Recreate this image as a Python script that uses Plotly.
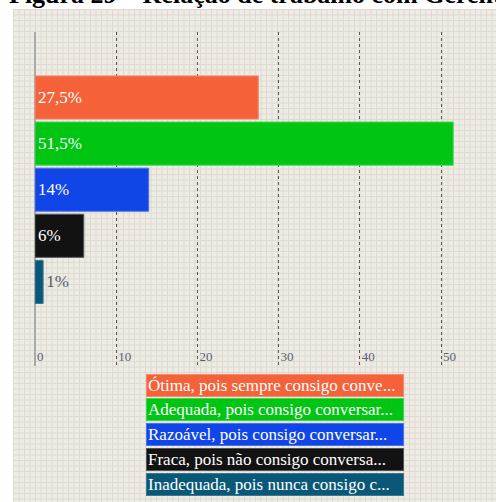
import plotly.graph_objects as go

# --- data -------------------------------------------------------------
categorias = [
    "Ótima, pois sempre consigo conve...",
    "Adequada, pois consigo conversar...",
    "Razoável, pois consigo conversar...",
    "Fraca, pois não consigo conversa...",
    "Inadequada, pois nunca consigo c...",
]
percentuais = [27.5, 51.5, 14, 6, 1]
rotulos = ["27,5%", "51,5%", "14%", "6%", "1%"]
ticks_x = [0, 10, 20, 30, 40, 50]
titulo = "Figura 29 – Relação de trabalho com Gerentes"

# --- styling ----------------------------------------------------------
cores = ["#F5623A", "#00C513", "#1045E8", "#121212", "#0A5878"]
bordas = ["#F78A6A", "#3CD74A", "#4A74EE", "#555555", "#3A7A95"]
W, H = 496, 502
SERIF = "Liberation Serif, Times New Roman, serif"


def px(x):
    return x / W


def py(y):
    return 1 - y / H


# plot area in pixels
X0, X1 = 35, 470
Y0, Y1 = 32, 366
PX_PER_UNIT = 8.12
SLOT = 46.1
first_center = 97.5

x_range = [0, (X1 - X0) / PX_PER_UNIT]
y_top = -(first_center - Y0) / SLOT
y_bot = (len(categorias) - 1) + (Y1 - (first_center + SLOT * (len(categorias) - 1))) / SLOT

posicoes = ["inside" if v >= 3 else "outside" for v in percentuais]

fig = go.Figure(
    go.Bar(
        x=percentuais,
        y=list(range(len(categorias))),
        orientation="h",
        marker=dict(color=cores, line=dict(color=bordas, width=1)),
        text=rotulos,
        textposition=posicoes,
        insidetextanchor="start",
        insidetextfont=dict(family=SERIF, size=17, color="white"),
        outsidetextfont=dict(family=SERIF, size=17, color="#555B66"),
        constraintext="none",
        cliponaxis=False,
        hoverinfo="skip",
        width=0.935,
    )
)

# graph-paper background
shapes = [
    dict(type="rect", xref="paper", yref="paper",
         x0=px(13), x1=px(W), y0=py(9), y1=py(H),
         fillcolor="#EEEBE4", line=dict(width=0), layer="below")
]
step = 5.5
path = []
x = 13.5
while x < W:
    path.append(f"M{px(x)},{py(9)} L{px(x)},{py(H)}")
    x += step
y = 9.5
while y < H:
    path.append(f"M{px(13)},{py(y)} L{px(W)},{py(y)}")
    y += step
shapes.append(dict(type="path", xref="paper", yref="paper", path=" ".join(path),
                   line=dict(color="#DEDAD1", width=1), layer="below"))

annotations = [
    dict(text=f"<b>{titulo}</b>", xref="paper", yref="paper",
         x=px(7), y=1, xanchor="left", yanchor="bottom", yshift=-11,
         showarrow=False, font=dict(family=SERIF, size=26, color="black"))
]

# colored legend boxes
leg_top = 374
leg_step = 24.8
for i, (cat, cor) in enumerate(zip(categorias, cores)):
    yc = leg_top + 11 + i * leg_step
    annotations.append(dict(
        text=cat, xref="paper", yref="paper",
        x=px(146), y=py(yc), xanchor="left", yanchor="middle",
        showarrow=False, align="left", width=254, height=19,
        bgcolor=cor, bordercolor=bordas[i], borderwidth=1, borderpad=1,
        font=dict(family=SERIF, size=17, color="white"),
    ))

fig.update_layout(
    width=W, height=H,
    margin=dict(l=0, r=0, t=0, b=0),
    paper_bgcolor="white",
    plot_bgcolor="rgba(0,0,0,0)",
    showlegend=False,
    shapes=shapes,
    annotations=annotations,
    xaxis=dict(
        domain=[px(X0), px(X1)], range=x_range,
        tickvals=ticks_x, ticktext=[str(t) for t in ticks_x],
        ticklabelposition="inside right",
        ticklabelstandoff=-4, ticklabelshift=2,
        tickfont=dict(family=SERIF, size=13, color="#5A6070"),
        showgrid=True, gridcolor="#555555", gridwidth=1, griddash="dot",
        zeroline=True, zerolinecolor="#AAAAAA", zerolinewidth=2,
        showline=False, ticks="", fixedrange=True,
    ),
    yaxis=dict(
        domain=[py(Y1), py(Y0)], range=[y_bot, y_top],
        showticklabels=False, showgrid=False, zeroline=False,
        showline=False, ticks="", fixedrange=True,
    ),
)

fig.write_html("out.html")
